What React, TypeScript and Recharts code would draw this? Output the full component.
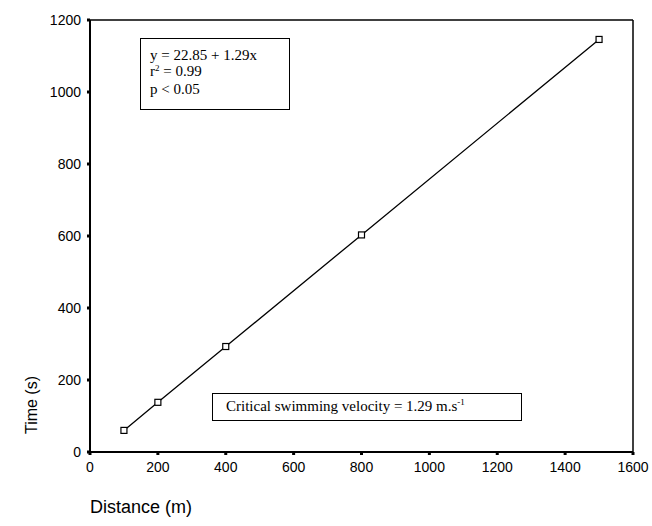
import { LineChart, Line, XAxis, YAxis, ReferenceLine } from "recharts";

const distances = [100, 200, 400, 800, 1500];
const times = [60, 138, 293, 603, 1146];
const xTicks = [0, 200, 400, 600, 800, 1000, 1200, 1400, 1600];
const yTicks = [0, 200, 400, 600, 800, 1000, 1200];

const data = distances.map((d, i) => ({ distance: d, time: times[i] }));

const SquareDot = (props: any) => {
  const { cx, cy } = props;
  if (cx == null || cy == null) return null;
  return <rect x={cx - 3} y={cy - 3} width={6} height={6} fill="#fff" stroke="#000" strokeWidth={1.2} />;
};

const tickStyle = { fill: "#000", fontSize: 14, fontFamily: "Liberation Sans, Arial, sans-serif" };
const serif = "Liberation Serif, Times New Roman, serif";

export default function App() {
  return (
    <div style={{ position: "absolute", left: 0, top: 0, width: 652, height: 526, background: "#fff" }}>
      <LineChart width={652} height={526} data={data} margin={{ top: 20, right: 19, bottom: 44, left: 30 }}>
        <XAxis
          dataKey="distance"
          type="number"
          domain={[0, 1600]}
          ticks={xTicks}
          height={30}
          axisLine={{ stroke: "#000", strokeWidth: 2 }}
          tickLine={{ stroke: "#000", strokeWidth: 3 }}
          tickSize={3}
          tickMargin={7}
          tick={tickStyle}
        />
        <YAxis
          dataKey="time"
          type="number"
          domain={[0, 1200]}
          ticks={yTicks}
          width={60}
          axisLine={{ stroke: "#000", strokeWidth: 2 }}
          tickLine={{ stroke: "#000", strokeWidth: 3 }}
          tickSize={3}
          tickMargin={6}
          tick={tickStyle}
        />
        <ReferenceLine y={1200} stroke="#000" strokeWidth={1.5} />
        <ReferenceLine x={1600} stroke="#000" strokeWidth={1.5} />
        <Line
          dataKey="time"
          stroke="#000"
          strokeWidth={1.3}
          dot={<SquareDot />}
          activeDot={false}
          isAnimationActive={false}
        />
      </LineChart>
      <div
        style={{
          position: "absolute",
          left: 140,
          top: 38,
          width: 150,
          height: 72,
          border: "1.5px solid #000",
          boxSizing: "border-box",
          fontFamily: serif,
          fontSize: 15,
          lineHeight: "16px",
          padding: "8px 0 0 9px",
        }}
      >
        <div>y = 22.85 + 1.29x</div>
        <div>
          r<sup style={{ fontSize: 9, verticalAlign: "5px", lineHeight: 0 }}>2</sup> = 0.99
        </div>
        <div style={{ marginTop: 2 }}>p &lt; 0.05</div>
      </div>
      <div
        style={{
          position: "absolute",
          left: 212,
          top: 393,
          width: 310,
          height: 28,
          border: "1.5px solid #000",
          boxSizing: "border-box",
          fontFamily: serif,
          fontSize: 15,
          lineHeight: "25px",
          paddingLeft: 13,
        }}
      >
        Critical swimming velocity = 1.29 m.s
        <sup style={{ fontSize: 9, verticalAlign: "6px", lineHeight: 0 }}>-1</sup>
      </div>
      <div
        style={{
          position: "absolute",
          left: 3,
          top: 405,
          transform: "translate(0,-50%) rotate(-90deg)",
          transformOrigin: "center",
          fontFamily: "Liberation Sans, Arial, sans-serif",
          fontSize: 16,
          whiteSpace: "nowrap",
        }}
      >
        Time (s)
      </div>
      <div
        style={{
          position: "absolute",
          left: 90,
          top: 497,
          fontFamily: "Liberation Sans, Arial, sans-serif",
          fontSize: 18,
          whiteSpace: "nowrap",
        }}
      >
        Distance (m)
      </div>
    </div>
  );
}
